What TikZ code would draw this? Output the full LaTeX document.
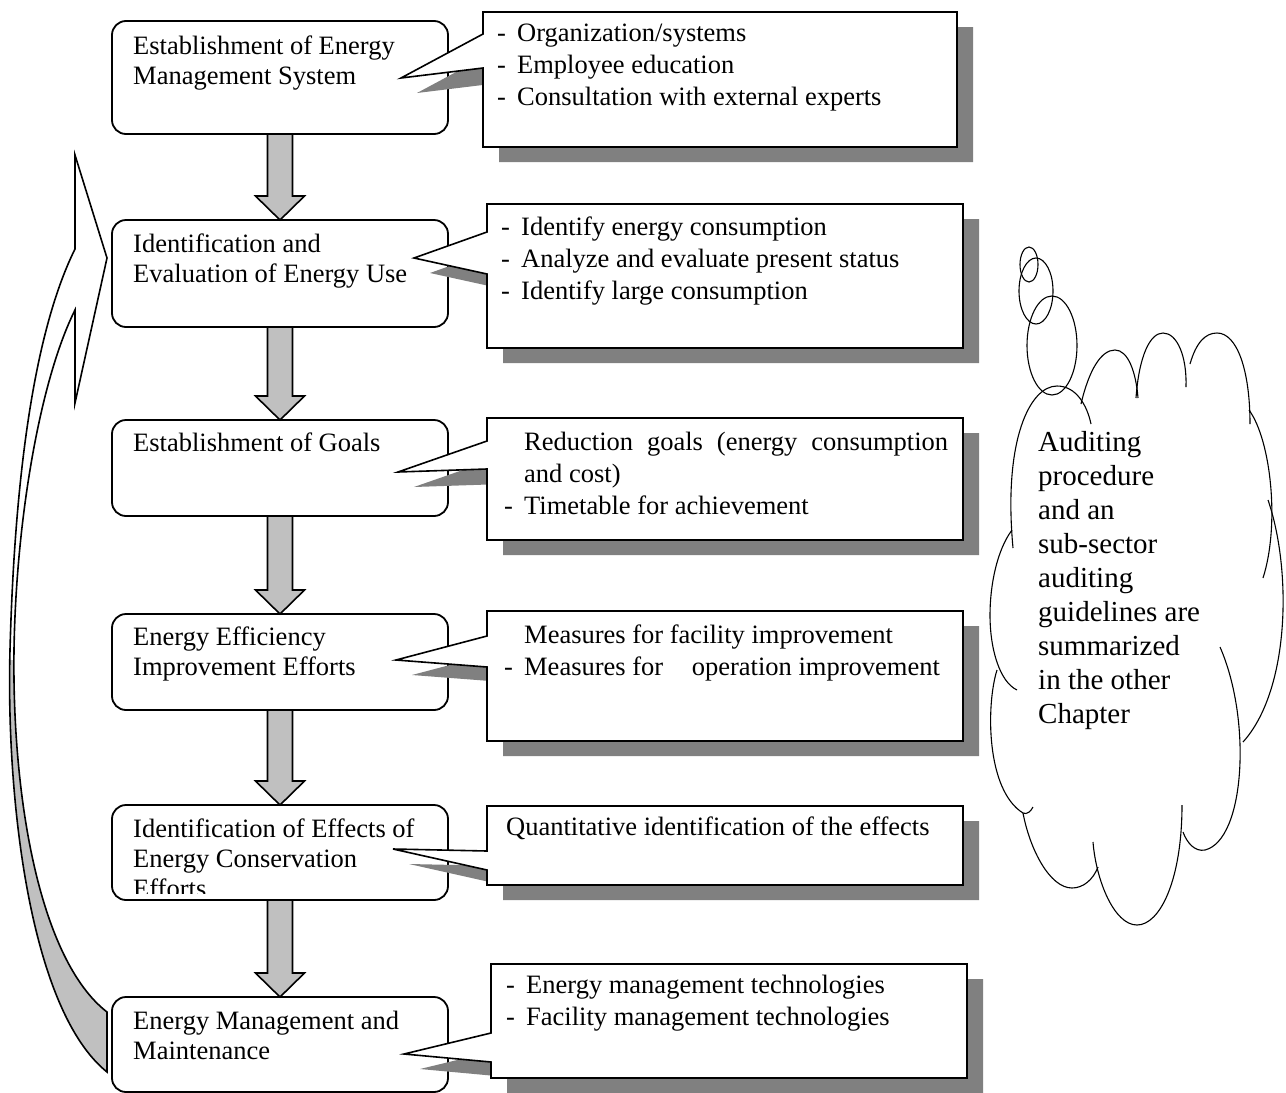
\documentclass[tikz,border=0pt]{standalone}
\usepackage{fontspec}
\setmainfont{Liberation Serif}
\usetikzlibrary{calc}
\definecolor{arrgray}{RGB}{192,192,192}
\definecolor{shadowgray}{RGB}{128,128,128}
\newcommand{\dsh}{\makebox[20pt][l]{-}}
\newcommand{\flowarrowbetween}[2]{%
  \draw[flowarrow] ($(#1.south)+(-12.5,0)$) -- ($(#2.north)+(-12.5,-24)$) -- ($(#2.north)+(-24.5,-24)$) -- (#2.north) -- ($(#2.north)+(24.5,-24)$) -- ($(#2.north)+(12.5,-24)$) -- ($(#1.south)+(12.5,0)$) -- cycle;}
\newcommand{\calloutpath}[8]{(#1,#2) -- (#3,#2) -- (#3,#4) -- (#1,#4) -- (#1,#8) -- (#5,#6) -- (#1,#7) -- cycle}
\newcommand{\calloutshadow}[8]{\begin{scope}[shift={(16,15)}]\fill[callshadow] \calloutpath{#1}{#2}{#3}{#4}{#5}{#6}{#7}{#8};\end{scope}}
\newcommand{\calloutbox}[8]{\draw[callbox] \calloutpath{#1}{#2}{#3}{#4}{#5}{#6}{#7}{#8};}
\begin{document}
\begin{tikzpicture}[x=1pt,y=-1pt,
  stagebox/.style={draw=black, line width=1.8pt, rounded corners=14pt, fill=white, minimum width=336pt, inner sep=0pt, outer sep=0pt},
  boxtext/.style={font=\fontsize{26.5}{30}\selectfont, align=left, inner sep=0pt, anchor=north west},
  calltext/.style={font=\fontsize{26.5}{32}\selectfont, align=left, inner sep=0pt, anchor=north west},
  cloudtext/.style={font=\fontsize{29}{34}\selectfont, align=left, inner sep=0pt, anchor=north west},
  flowarrow/.style={draw=black, line width=1.6pt, fill=arrgray, line join=miter},
  callshadow/.style={fill=shadowgray, draw=none},
  callbox/.style={draw=black, line width=1.6pt, fill=white, line join=miter},
  cloudline/.style={draw=black, line width=1.1pt},
  backarrow/.style={draw=black, line width=1.6pt, line join=miter},
]
\useasboundingbox (0,0) rectangle (1286,1093);
\fill[white] (0,0) rectangle (1286,1093);

% feedback arrow
\newcommand{\backpath}{(107,1072) .. controls (30,1010) and (6,800) .. (10,650) .. controls (14,500) and (30,340) .. (75,249) -- (75,155) -- (107,258) -- (75,403) -- (75,310) .. controls (40,380) and (16,520) .. (14,650) .. controls (12,800) and (40,960) .. (107,1012) -- cycle}
\begin{scope}
  \clip (0,0) rectangle (200,660);
  \fill[white] \backpath;
\end{scope}
\begin{scope}
  \clip (0,660) rectangle (200,1093);
  \fill[arrgray] \backpath;
\end{scope}
\draw[backarrow] \backpath;

% stage boxes
\node[stagebox, minimum height=113pt] (b1) at (280,77.5) {};
\node[stagebox, minimum height=107pt] (b2) at (280,273.5) {};
\node[stagebox, minimum height=96pt] (b3) at (280,468) {};
\node[stagebox, minimum height=96pt] (b4) at (280,662) {};
\node[stagebox, minimum height=95pt] (b5) at (280,852.5) {};
\node[stagebox, minimum height=95pt] (b6) at (280,1044.5) {};

\node[boxtext] (t1) at (133,33) {\strut Establishment of Energy\\Management System};
\node[boxtext] (t2) at (133,231) {\strut Identification and\\Evaluation of Energy Use};
\node[boxtext] (t3) at (133,430) {\strut Establishment of Goals};
\node[boxtext] (t4) at (133,624) {\strut Energy Efficiency\\Improvement Efforts};
\begin{scope}
  \clip (113,806) rectangle (447,893.5);
  \node[boxtext] (t5) at (133,816) {\strut Identification of Effects of\\Energy Conservation\\Efforts};
\end{scope}
\node[boxtext] (t6) at (133,1008) {\strut Energy Management and\\Maintenance};

% flow arrows
\flowarrowbetween{b1}{b2}
\flowarrowbetween{b2}{b3}
\flowarrowbetween{b3}{b4}
\flowarrowbetween{b4}{b5}
\flowarrowbetween{b5}{b6}

% callout shadows
\calloutshadow{483}{12}{957}{147}{401}{78}{34}{68}
\calloutshadow{487}{204}{963}{348}{414}{258}{232}{274}
\calloutshadow{487}{418}{963}{540}{398}{472}{441}{469}
\calloutshadow{487}{611}{963}{741}{396}{660}{636}{667}
\calloutshadow{487}{806}{963}{885}{393}{849}{851}{870}
\calloutshadow{491}{964}{967}{1078}{404}{1054}{1033}{1062}
% callouts
\calloutbox{483}{12}{957}{147}{401}{78}{34}{68}
\calloutbox{487}{204}{963}{348}{414}{258}{232}{274}
\calloutbox{487}{418}{963}{540}{398}{472}{441}{469}
\calloutbox{487}{611}{963}{741}{396}{660}{636}{667}
\calloutbox{487}{806}{963}{885}{393}{849}{851}{870}
\calloutbox{491}{964}{967}{1078}{404}{1054}{1033}{1062}

\node[calltext] (c1) at (497,18.6) {\strut\dsh Organization/systems\\\dsh Employee education\\\dsh Consultation with external experts};
\node[calltext] (c2) at (501,212.6) {\strut\dsh Identify energy consumption\\\dsh Analyze and evaluate present status\\\dsh Identify large consumption};
\node[calltext] (c3) at (504,427.6) {\strut\hspace*{20pt}\hbox to 424pt{Reduction\hfill goals\hfill (energy\hfill consumption}\\\hspace*{20pt}and cost)\\\dsh Timetable for achievement};
\node[calltext] (c4) at (504,620.6) {\strut\hspace*{20pt}Measures for facility improvement\\\dsh Measures for\hspace*{22pt} operation improvement};
\node[calltext] (c5) at (506,812.6) {\strut Quantitative identification of the effects};
\node[calltext] (c6) at (506,970.6) {\strut\dsh Energy management technologies\\\dsh Facility management technologies};

% cloud
\draw[cloudline] (1029,264.5) ellipse [x radius=9, y radius=17.5];
\draw[cloudline] (1036,291) ellipse [x radius=17, y radius=33];
\draw[cloudline] (1052,345.5) ellipse [x radius=25, y radius=49.5];
\draw[cloudline] (1013,548) .. controls (1003,440) and (1030,386) .. (1057,386) .. controls (1076,386) and (1087,405) .. (1091,424);
\draw[cloudline] (1081,404) .. controls (1089,370) and (1101,350) .. (1115,350) .. controls (1128,350) and (1136,372) .. (1138,398);
\draw[cloudline] (1136,398) .. controls (1139,356) and (1150,333) .. (1163,333) .. controls (1177,333) and (1187,356) .. (1186,387);
\draw[cloudline] (1190,364) .. controls (1196,343) and (1205,333) .. (1217,333) .. controls (1237,333) and (1250,370) .. (1250,424);
\draw[cloudline] (1249,410) .. controls (1271,440) and (1280,525) .. (1263,578);
\draw[cloudline] (1268,500) .. controls (1292,570) and (1290,690) .. (1243,742);
\draw[cloudline] (1220,647) .. controls (1252,720) and (1245,840) .. (1205,850) .. controls (1195,852) and (1187,843) .. (1183,832);
\draw[cloudline] (1182,805) .. controls (1182,880) and (1160,925) .. (1137,925) .. controls (1114,925) and (1096,880) .. (1093,842);
\draw[cloudline] (1098,867) .. controls (1093,880) and (1083,888) .. (1072,888) .. controls (1050,888) and (1030,850) .. (1023,813);
\draw[cloudline] (997,670) .. controls (986,705) and (986,790) .. (1023,813) .. controls (1027,815) and (1031,811) .. (1033,807);
\draw[cloudline] (1012,530) .. controls (997,550) and (990,585) .. (990,615) .. controls (990,650) and (1000,682) .. (1017,690);
\node[cloudtext] (cl) at (1038,427) {\strut Auditing\\procedure\\and an\\sub-sector\\auditing\\guidelines are\\summarized\\in the other\\Chapter};
\end{tikzpicture}
\end{document}
